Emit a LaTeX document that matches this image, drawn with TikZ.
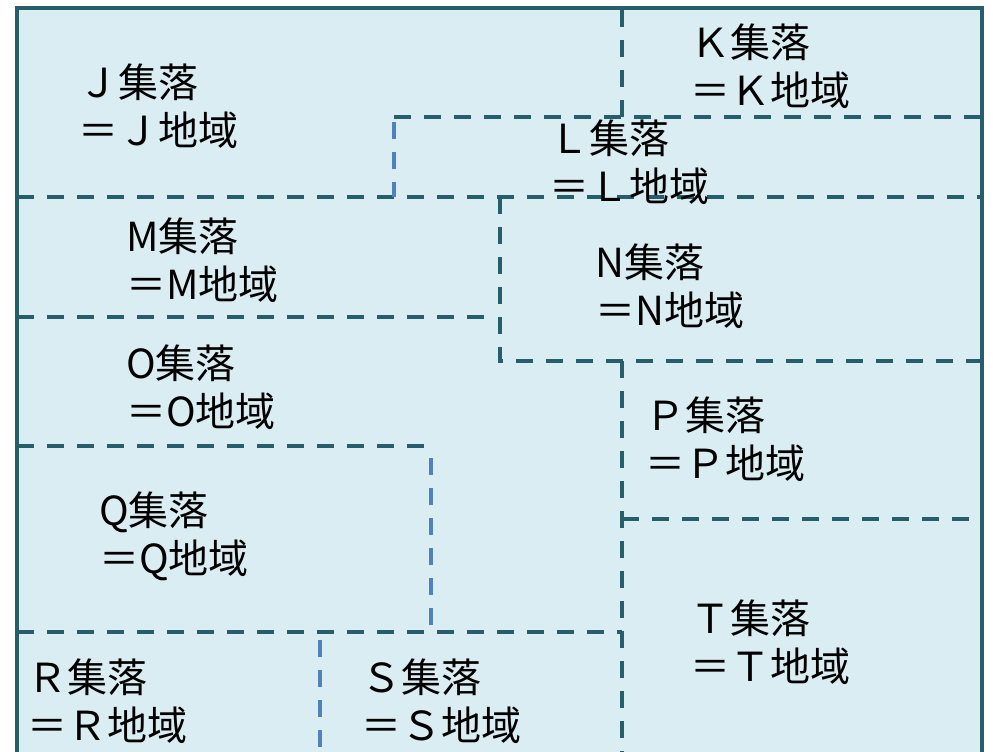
\documentclass[tikz,border=0pt]{standalone}
\usepackage{fontspec}
\newfontfamily\jp{Noto Sans CJK JP}
\definecolor{teal1}{HTML}{265E6C}
\definecolor{blue1}{HTML}{4F81BD}
\definecolor{fill1}{HTML}{DAEDF3}
\begin{document}
\begin{tikzpicture}[x=1pt,y=-1pt,
  border/.style={draw=teal1,line width=4pt,fill=fill1},
  tdash/.style={draw=teal1,line width=4pt,dash pattern=on 17pt off 13pt},
  bdash/.style={draw=blue1,line width=4pt,dash pattern=on 17pt off 13pt},
  lbl/.style={anchor=west,inner sep=0pt,align=left,font=\jp\fontsize{40}{48}\selectfont,text=black}]
\useasboundingbox (0,0) rectangle (993,752);
\clip (0,0) rectangle (993,752);
\fill[white] (0,0) rectangle (993,752);
\draw[border] (17,8) rectangle (982,800);
% teal dashed boundaries
\draw[tdash] (622,10) -- (622,117);
\draw[tdash] (394,117) -- (982,117);
\draw[tdash] (17,197) -- (982,197);
\draw[tdash] (500,197) -- (500,361) -- (982,361);
\draw[tdash] (17,317) -- (490,317);
\draw[tdash] (17,446) -- (430,446);
\draw[tdash] (17,632) -- (622,632);
\draw[tdash] (622,361) -- (622,752);
\draw[tdash] (622,519) -- (982,519);
% blue dashed boundaries
\draw[bdash] (394,122) -- (394,197);
\draw[bdash] (431,458) -- (431,632);
\draw[bdash] (320,640) -- (320,752);
% labels
\node[lbl] (J) at (78,106) {Ｊ集落\\＝Ｊ地域};
\node[lbl] (K) at (690,66) {Ｋ集落\\＝Ｋ地域};
\node[lbl] (L) at (549,162) {Ｌ集落\\＝Ｌ地域};
\node[lbl] (M) at (126,260) {M集落\\＝M地域};
\node[lbl] (N) at (595,286) {N集落\\＝N地域};
\node[lbl] (O) at (126,387) {O集落\\＝O地域};
\node[lbl] (P) at (645,439) {Ｐ集落\\＝Ｐ地域};
\node[lbl] (Q) at (99,536) {Q集落\\＝Q地域};
\node[lbl] (R) at (27,701) {Ｒ集落\\＝Ｒ地域};
\node[lbl] (S) at (361,701) {Ｓ集落\\＝Ｓ地域};
\node[lbl] (T) at (690,642) {Ｔ集落\\＝Ｔ地域};
\end{tikzpicture}
\end{document}
